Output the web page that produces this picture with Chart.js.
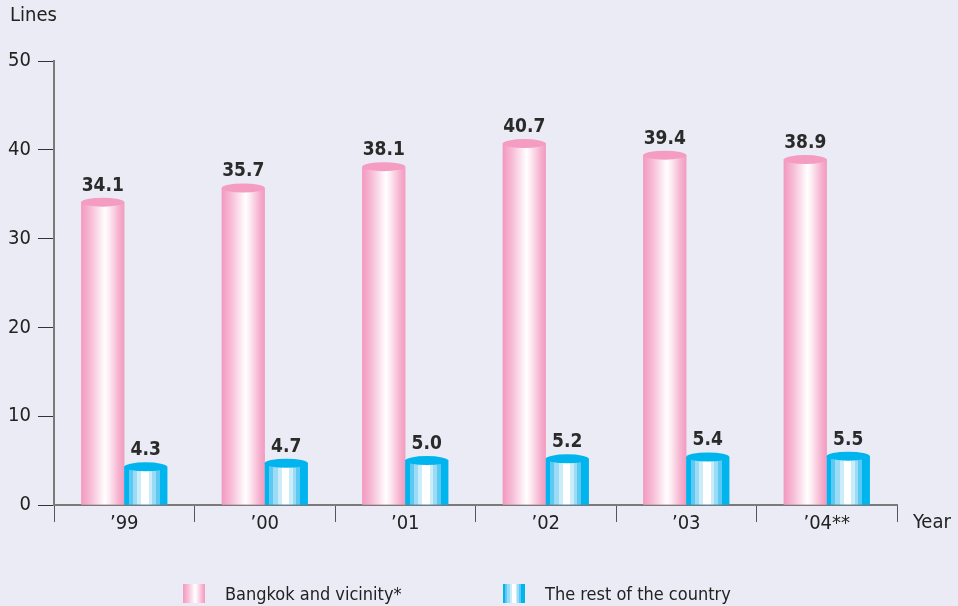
<!DOCTYPE html>
<html><head><meta charset="utf-8">
<script src="https://cdn.jsdelivr.net/npm/chart.js@4"></script>
<style>
html,body{margin:0;padding:0;background:#EBEBF5;}
#wrap{position:relative;width:958px;height:606px;}
#c{display:block;}
#legend{position:absolute;left:0;top:584px;width:958px;height:20px;font:18px "DejaVu Sans Condensed","DejaVu Sans",sans-serif;color:#222;}
.item{position:absolute;top:0;height:19px;display:flex;align-items:center;}
.sw{width:22px;height:19px;margin-right:20px;}
</style></head>
<body><div id="wrap"><canvas id="c" width="958" height="606"></canvas><div id="legend"></div></div>
<script>
const categories = ['\u201999','\u201900','\u201901','\u201902','\u201903','\u201904**'];
const bangkok = [34.1, 35.7, 38.1, 40.7, 39.4, 38.9];
const restOfCountry = [4.3, 4.7, 5.0, 5.2, 5.4, 5.5];
const seriesNames = ['Bangkok and vicinity*', 'The rest of the country'];
const yMin = 0, yMax = 50, yStep = 10;
const FONT = '"DejaVu Sans Condensed", "DejaVu Sans", sans-serif';

const pinkStops = [[0,'#F299BF'],[0.22,'#F7BCD6'],[0.55,'#FFFFFF'],[0.65,'#FDEBF3'],[0.88,'#F6B0CE'],[1,'#F29BC1']];
const blueStops = [[0,'#00B4EE'],[0.1,'#00B4EE'],[0.1,'#5CC9F2'],[0.2,'#5CC9F2'],[0.2,'#9BDBF6'],[0.3,'#9BDBF6'],[0.3,'#CBEDFA'],[0.4,'#CBEDFA'],[0.4,'#FFFFFF'],[0.57,'#FFFFFF'],[0.57,'#CBEDFA'],[0.65,'#CBEDFA'],[0.65,'#9BDBF6'],[0.73,'#9BDBF6'],[0.73,'#5CC9F2'],[0.82,'#5CC9F2'],[0.82,'#00B4EE'],[1,'#00B4EE']];
const stopsList = [pinkStops, blueStops];
const topColors = ['#F59CC2', '#00B4EE'];

function cssGrad(stops){ return 'linear-gradient(to right,' + stops.map(s=>s[1]+' '+(s[0]*100)+'%').join(',') + ')'; }

const cylinder = {
  id:'cylinder',
  afterDatasetsDraw(chart){
    const ctx = chart.ctx;
    chart.data.datasets.forEach((ds,i)=>{
      const meta = chart.getDatasetMeta(i);
      meta.data.forEach((el,j)=>{
        const p = el.getProps(['x','y','base','width'], true);
        const l = p.x - p.width/2;
        const g = ctx.createLinearGradient(l,0,l+p.width,0);
        stopsList[i].forEach(s=>g.addColorStop(s[0],s[1]));
        ctx.save();
        ctx.fillStyle = g;
        ctx.fillRect(l, p.y, p.width, p.base - p.y);
        ctx.beginPath();
        ctx.ellipse(p.x, p.y, p.width/2, 4.5, 0, 0, Math.PI*2);
        ctx.fillStyle = topColors[i];
        ctx.fill();
        ctx.font = 'bold 19px ' + FONT;
        ctx.fillStyle = '#2a2a2a';
        ctx.textAlign = 'center';
        ctx.textBaseline = 'bottom';
        ctx.fillText(ds.data[j].toFixed(1), p.x, p.y - 7);
        ctx.restore();
      });
    });
    const xs = chart.scales.x;
    ctx.save();
    ctx.font = '20px ' + FONT;
    ctx.fillStyle = '#222';
    ctx.textAlign = 'left';
    ctx.textBaseline = 'top';
    ctx.fillText('Lines', 10, 6);
    ctx.textBaseline = 'middle';
    ctx.fillText('Year', xs.right + 16, xs.top + 18);
    ctx.restore();
  }
};

new Chart(document.getElementById('c'), {
  type:'bar',
  data:{
    labels: categories,
    datasets:[
      {label: seriesNames[0], data: bangkok, backgroundColor:'#F4A0C4'},
      {label: seriesNames[1], data: restOfCountry, backgroundColor:'#00B4EE'}
    ]
  },
  options:{
    responsive:false,
    animation:false,
    events:[],
    categoryPercentage:0.612,
    barPercentage:1,
    layout:{padding:{left:6,right:61,top:61,bottom:56}},
    plugins:{legend:{display:false},tooltip:{enabled:false}},
    scales:{
      x:{
        offset:true,
        afterFit(scale){ scale.height = 45; },
        grid:{offset:true,drawOnChartArea:false,tickLength:17,color:'#555',lineWidth:1},
        border:{color:'#7a7a7a',width:2},
        ticks:{font:{family:FONT,size:20},color:'#222',padding:-10}
      },
      y:{
        min:yMin,max:yMax,
        afterFit(scale){ scale.width = 48; },
        ticks:{stepSize:yStep,font:{family:FONT,size:20},color:'#222',padding:7},
        grid:{drawOnChartArea:false,tickLength:16,color:'#333',lineWidth:1},
        border:{color:'#7a7a7a',width:2}
      }
    }
  },
  plugins:[cylinder]
});

const leg = document.getElementById('legend');
const lefts = [183, 503];
seriesNames.forEach((n,i)=>{
  const d = document.createElement('div');
  d.className='item'; d.style.left = lefts[i]+'px';
  d.innerHTML = '<div class="sw" style="background:'+cssGrad(stopsList[i])+'"></div><span>'+n+'</span>';
  leg.appendChild(d);
});
</script></body></html>
